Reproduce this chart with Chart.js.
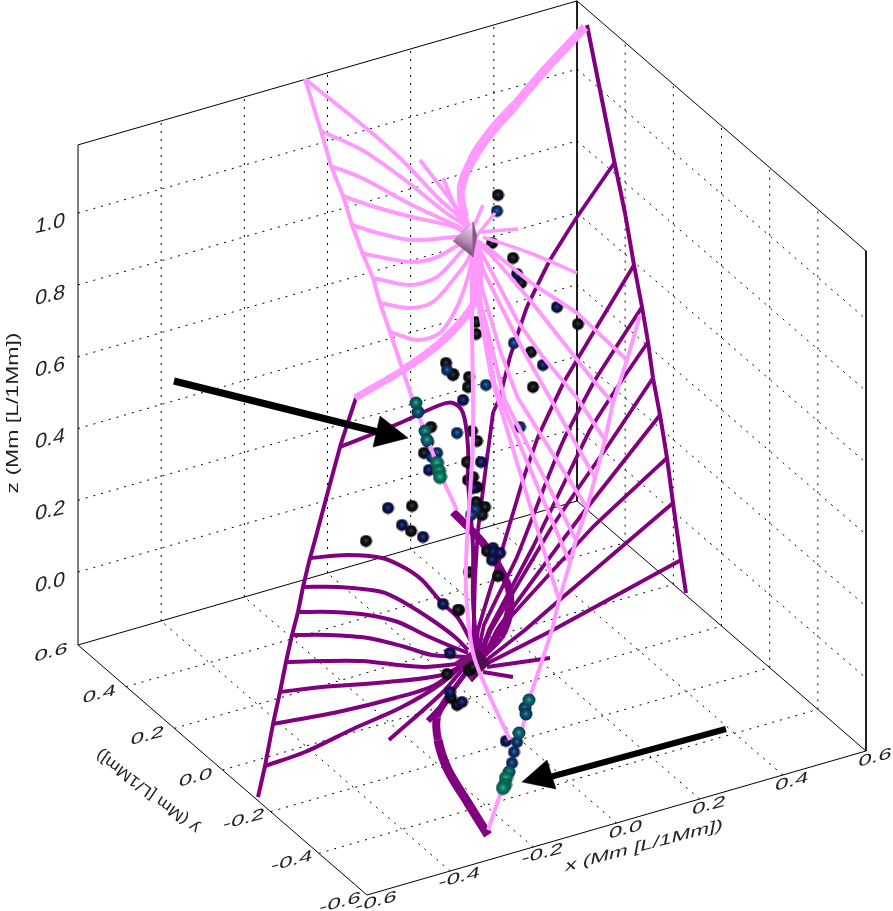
<!DOCTYPE html>
<html><head><meta charset="utf-8">
<style>html,body{margin:0;padding:0;background:#fff;overflow:hidden}canvas{display:block}</style>
<script src="https://cdn.jsdelivr.net/npm/chart.js@4"></script>
</head><body><canvas id="c" width="893" height="911"></canvas>
<script>
// ---------- tick values ----------
const xTicks=[-0.6,-0.4,-0.2,0.0,0.2,0.4,0.6];
const yTicks=[-0.6,-0.4,-0.2,0.0,0.2,0.4,0.6];
const zTicks=[0.0,0.2,0.4,0.6,0.8,1.0];
const xTitle='x (Mm [L/1Mm])', yTitle='y (Mm [L/1Mm])', zTitle='z (Mm [L/1Mm])';
// ---------- pink field lines (view-plane units) ----------
const pinkBoundaryLeft=[[305,79],[321,131],[331,166],[343,196],[352,225],[362,252],[373,278],[380,303],[390,332],[412,398],[423,427],[443,480],[457,510]];
const pinkBoundaryRight=[[640,315],[627,360],[613,403],[605,440],[595,478],[587,508],[576,540],[570,563],[559,600],[552,630],[530,697],[522,730],[488,830]];
const pinkColumn=[[472,250],[472,327],[473,440],[467,540],[466,590],[473,653],[487,690],[510,740]];
const pinkLeftLines=[
 [[305,79],[335,103],[372,133],[405,163],[438,198],[462,220],[468,235]],
 [[321,131],[362,150],[405,180],[445,212],[465,225]],
 [[331,166],[362,178],[412,205],[455,225],[468,232]],
 [[343,196],[375,207],[412,217],[455,227],[466,234]],
 [[352,225],[378,233],[412,240],[455,237],[466,236]],
 [[361,253],[385,258],[412,262],[435,258],[455,247],[466,240]],
 [[373,278],[410,285],[437,277],[460,253],[468,244]],
 [[380,303],[410,308],[433,302],[453,280],[468,260],[472,248]],
 [[390,332],[417,340],[440,333],[457,307],[468,277],[474,250]],
 [[420,160],[452,202],[467,225]],
 [[443,178],[453,202],[467,225]]];
const pinkRightShort=[
 [[483,205],[470,235]],
 [[495,213],[475,238]],
 [[518,229],[478,232]],
 [[577,273],[530,253],[483,237]]];
const pinkFan=[
 [[627,360],[577,313],[530,282],[487,247],[476,240]],
 [[613,403],[593,380],[530,300],[493,257],[476,242]],
 [[605,440],[577,398],[543,357],[517,320],[487,263],[476,244]],
 [[595,478],[550,398],[523,350],[484,272],[476,246]],
 [[587,508],[518,398],[500,350],[481,285],[476,248]],
 [[576,540],[505,400],[490,340],[480,300],[476,250]],
 [[570,563],[495,385],[480,300],[476,252]],
 [[559,600],[492,380],[476,290],[475,254]]];
const pinkThickUpper=[[585,27],[545,70],[515,105],[490,133],[472,160],[461,190],[465,217],[470,232]];
const pinkThickUpperWidths=[9,9,10,10,9,8,6];
const pinkThickLower=[[355,398],[403,370],[440,343],[470,310],[480,283],[480,255]];
const pinkThickLowerWidths=[7,8,8,8,6];
const pinkMarker=[[453,241],[473,222],[473,257]];
const pinkMarkerSide=[[473,222],[477,236],[473,257]];
// ---------- purple field lines ----------
const purpleBoundaryLeft=[[356,398],[340,447],[315,540],[310,558],[303,587],[298,612],[292,635],[286,662],[280,692],[273,724],[265,766],[258,797]];
const purpleBoundaryRight=[[587,25],[598,80],[614,160],[625,213],[634,265],[642,307],[648,342],[653,378],[660,415],[667,458],[673,503],[681,560],[686,593]];
const purpleTopCurve=[[340,447],[400,423],[440,405],[453,403],[463,413],[468,447],[468,480],[473,547],[473,600],[477,650]];
const purpleLeftLines=[
 [[310,558],[348,555],[382,558],[405,568],[422,580],[442,603],[458,618],[472,643]],
 [[303,587],[338,587],[382,592],[405,603],[432,620],[455,637],[468,650]],
 [[298,612],[332,612],[368,615],[398,622],[425,635],[448,645],[468,653]],
 [[292,635],[328,635],[368,638],[405,647],[432,655],[468,657]],
 [[286,662],[322,661],[362,661],[398,665],[425,667],[465,663]],
 [[280,692],[322,687],[388,682],[442,675],[468,662]],
 [[273,724],[338,712],[395,698],[435,685],[468,660]],
 [[265,766],[305,752],[355,728],[402,707],[442,683],[468,660]],
 [[389,740],[442,693],[462,670]]];
const purpleFan=[
 [[615,162],[577,217],[550,260],[527,307],[510,357],[500,397],[493,413],[478,530],[475,580],[473,650]],
 [[634,265],[565,380],[538,437],[522,483],[497,567],[478,630],[476,655]],
 [[642,307],[595,380],[565,437],[547,480],[517,557],[484,625],[478,655]],
 [[648,342],[622,380],[590,430],[567,477],[533,547],[489,630],[479,657]],
 [[653,378],[607,447],[577,490],[550,530],[491,630],[480,658]],
 [[660,415],[583,513],[533,580],[497,630],[482,660]],
 [[667,458],[593,527],[508,620],[482,660]],
 [[673,503],[563,597],[525,630],[484,662]],
 [[681,560],[553,630],[486,664]]];
const purpleRightShort=[[[550,658],[487,667]],[[513,677],[483,672]]];
const purpleThickUpper=[[453,512],[483,543],[507,583],[510,607],[500,637],[480,657]];
const purpleThickUpperWidths=[8,8,8,9,8];
const purpleThickLower=[[488,835],[468,803],[448,770],[438,740],[437,717],[448,697],[468,670]];
const purpleThickLowerWidths=[9,9,9,8,7,5];
const purpleStub=[[428,721],[445,703]];
const purpleMarkerLeft=[[455,662],[477,648],[472,682]];
const purpleMarkerRight=[[477,648],[490,663],[472,682]];
// ---------- spheres ----------
const spheresBehind=[[492,243],[476,322],[476,334],[472,431],[468,480],[469,572],[453,374]];
const spheresBlack=[[498,195],[513,258],[521,283],[578,324],[531,352],[533,387],[469,377],[468,387],[446,363],[453,375],[431,427],[424,453],[477,441],[467,462],[473,477],[477,487],[476,502],[485,507],[482,515],[412,506],[411,531],[366,541],[487,551],[498,576],[459,610],[458,610],[447,674],[469,670],[473,667],[451,698],[457,705]];
const spheresNavy=[[517,274],[557,307],[543,365],[463,400],[428,442],[429,470],[481,462],[473,488],[388,508],[402,525],[423,537],[493,548],[494,552],[500,553],[492,560],[443,604],[450,653],[450,692],[462,702],[506,741]];
const spheresBlue=[[497,211],[514,343],[447,370],[486,385],[520,427],[457,433],[437,453],[432,457],[475,510],[471,515]];
const spheresBlueFront=[[517,742],[514,752],[512,763]];
const spheresTealDark=[[418,412],[525,708],[526,714]];
const spheresTeal=[[416,403],[425,431],[427,440],[529,700],[519,733],[509,772]];
const spheresGreen=[[437,463],[439,471],[440,477],[506,778],[505,785],[503,788]];
// ---------- arrows ----------
const arrowUpperShaft=[[174,381],[378,432]];
const arrowUpperHead=[[408,438],[380,416],[373,447]];
const arrowLowerShaft=[[726,729],[550,777]];
const arrowLowerHead=[[522,782],[547,760],[556,789]];

// ---------- oblique axes of the box ----------
const proj=(x,y,z)=>({
  x:367+(x+0.6)/1.2*499-(y+0.6)/1.2*289,
  y:895-(x+0.6)/1.2*144-(y+0.6)/1.2*250-(z+0.203)*359
});
const zMin=-0.203, zMax=1.19, lo=-0.6, hi=0.6;
const PINK='#ff99ff', PURPLE='#800080';
const pts=a=>a.map(p=>({x:p[0],y:p[1]}));
const list=[];
const seg=(data,color,width,extra)=>list.push(Object.assign({data,clip:false,borderColor:color,borderWidth:width,showLine:true,pointRadius:0,tension:0,borderCapStyle:'butt',borderJoinStyle:'round',backgroundColor:'transparent'},extra||{}));
const curve=(a,color,width,t=0.3)=>seg(pts(a),color,width,{tension:t});
const taper=(a,w,color,t=0.3)=>seg(pts(a),color,w[0],{tension:t,segment:{borderWidth:c=>w[Math.min(c.p0DataIndex,w.length-1)]}});
const poly=(a,color,line)=>seg(pts(a.concat([a[0]])),line||color,0.5,{fill:'shape',backgroundColor:color});
const sphere=(s,base,mid,hiC)=>{
  const cv=document.createElement('canvas');cv.width=cv.height=s;
  const g=cv.getContext('2d');
  const r=g.createRadialGradient(s/2,s/2-0.5,0.2,s/2,s/2,s/2-0.4);
  r.addColorStop(0,hiC);r.addColorStop(0.35,mid);r.addColorStop(1,base);
  g.fillStyle=r;g.beginPath();g.arc(s/2,s/2,s/2-0.5,0,Math.PI*2);g.fill();
  return cv;
};
const balls=(a,img)=>list.push({data:pts(a),clip:false,showLine:false,pointStyle:img,pointRadius:6,backgroundColor:'transparent',borderColor:'transparent'});
const sBlack=sphere(13,'#020206','#14141c','#44444e'),sNavy=sphere(13,'#05072a','#131959','#3c4284'),
 sBlue=sphere(13,'#051a40','#103877','#3f76ae'),sTealD=sphere(14,'#04304a','#0e5070','#3e86a0'),
 sTeal=sphere(14,'#044040','#0e6a72','#48a0a0'),sGreen=sphere(15,'#045040','#0e8068','#40b898');

// ---------- paint order: background first ----------
const dotted={borderDash:[2,6]};
const inner=t=>t>lo+1e-6&&t<hi-1e-6;
xTicks.filter(inner).forEach(t=>{
  seg([proj(t,hi,zMin),proj(t,hi,zMax)],'#000',1,dotted);
  seg([proj(t,lo,zMin),proj(t,hi,zMin)],'#000',1,dotted);
});
yTicks.filter(inner).forEach(t=>{
  seg([proj(hi,t,zMin),proj(hi,t,zMax)],'#000',1,dotted);
  seg([proj(lo,t,zMin),proj(hi,t,zMin)],'#000',1,dotted);
});
zTicks.forEach(t=>{
  seg([proj(lo,hi,t),proj(hi,hi,t)],'#000',1,dotted);
  seg([proj(hi,hi,t),proj(hi,lo,t)],'#000',1,dotted);
});
[[[lo,hi,zMin],[lo,hi,zMax]],[[lo,hi,zMax],[hi,hi,zMax]],[[hi,hi,zMax],[hi,lo,zMax]],[[hi,lo,zMax],[hi,lo,zMin]],
 [[hi,hi,zMax],[hi,hi,zMin]],[[lo,hi,zMin],[hi,hi,zMin]],[[hi,hi,zMin],[hi,lo,zMin]],[[lo,hi,zMin],[lo,lo,zMin]],[[lo,lo,zMin],[hi,lo,zMin]]]
 .forEach(e=>seg([proj(...e[0]),proj(...e[1])],'#000',1));
balls(spheresBehind,sBlack);
curve(purpleBoundaryRight,PURPLE,4,0.1);
purpleFan.forEach(l=>curve(l,PURPLE,3.8,0.08));
purpleRightShort.forEach(l=>curve(l,PURPLE,4));
curve(purpleBoundaryLeft,PURPLE,4,0.1);
curve(purpleTopCurve,PURPLE,4,0.35);
purpleLeftLines.forEach(l=>curve(l,PURPLE,4));
taper(purpleThickUpper,purpleThickUpperWidths,PURPLE);
taper(purpleThickLower,purpleThickLowerWidths,PURPLE);
curve(purpleStub,PURPLE,6);
poly(purpleMarkerLeft,'#7a1078');poly(purpleMarkerRight,'#520a50');
balls(spheresBlack,sBlack);balls(spheresNavy,sNavy);balls(spheresBlue,sBlue);
curve(pinkBoundaryLeft,PINK,4,0.05);
curve(pinkBoundaryRight,PINK,4,0.08);
curve(pinkColumn,PINK,4);
pinkLeftLines.forEach(l=>curve(l,PINK,4));
pinkRightShort.forEach(l=>curve(l,PINK,3.6));
pinkFan.forEach(l=>curve(l,PINK,4,0.05));
taper(pinkThickUpper,pinkThickUpperWidths,PINK,0.4);
taper(pinkThickLower,pinkThickLowerWidths,PINK);
const markerFill=c=>{const g=c.chart.ctx.createLinearGradient(474,224,458,256);g.addColorStop(0,'#f6e0f6');g.addColorStop(0.55,'#b088b0');g.addColorStop(1,'#4e2450');return g;};
poly(pinkMarker,markerFill,'#9a709a');
poly(pinkMarkerSide,'#8a5a8a');
balls(spheresBlueFront,sBlue);balls(spheresTealDark,sTealD);balls(spheresTeal,sTeal);balls(spheresGreen,sGreen);
seg(pts(arrowUpperShaft),'#000',7);poly(arrowUpperHead,'#000');
seg(pts(arrowLowerShaft),'#000',6);poly(arrowLowerHead,'#000');
list.forEach((d,i)=>{d.order=list.length-i;});

// ---------- sheared labels of the box ----------
const F=20;
const sheared=(g,t,cx,cy,ux,uy,vx,vy)=>{
  g.save();
  g.transform(ux/F,uy/F,-vx/F,-vy/F,cx,cy);
  g.font=F+'px "Liberation Sans"';g.textAlign='center';g.textBaseline='middle';g.fillStyle='#222';
  g.fillText(t,0,0);g.restore();
};
const labels={id:'labels',afterDraw(ch){
  const g=ch.ctx,sx=ch.scales.x,sy=ch.scales.y;
  const px=(p,dx,dy)=>[sx.getPixelForValue(p.x)+dx,sy.getPixelForValue(p.y)+dy];
  zTicks.forEach(t=>{const q=px(proj(lo,hi,t),-28,11);sheared(g,t.toFixed(1),q[0],q[1],21.5,-5,3,-21);});
  yTicks.forEach(t=>{const q=px(proj(lo,t,zMin),-27,8);sheared(g,t.toFixed(1),q[0],q[1],24,-6.5,3,-16);});
  xTicks.forEach(t=>{const q=px(proj(t,lo,zMin),9,7);sheared(g,t.toFixed(1),q[0],q[1],24,-6.5,3,-16);});
  sheared(g,xTitle,644,846,22.5,-6,3,-16);
  sheared(g,yTitle,148,791,-14.3,-11,-9,13);
  sheared(g,zTitle,13,413,0,-23,-17,0);
}};

const chart=new Chart(document.getElementById('c'),{
  type:'scatter',
  data:{datasets:list},
  plugins:[labels],
  options:{responsive:false,animation:false,events:[],
    layout:{padding:0},
    plugins:{legend:{display:false},tooltip:{enabled:false},title:{display:false}},
    scales:{x:{type:'linear',min:0,max:893,display:false},y:{type:'linear',min:0,max:911,reverse:true,display:false}}}
});
// The line controllers inset the plot area by their overflow: let the scale range follow it,
// so one scale unit is one picture unit across the whole canvas.
const area=chart.chartArea;
chart.options.scales.x.min=area.left;chart.options.scales.x.max=area.right;
chart.options.scales.y.min=area.top;chart.options.scales.y.max=area.bottom;
chart.update();
</script></body></html>
